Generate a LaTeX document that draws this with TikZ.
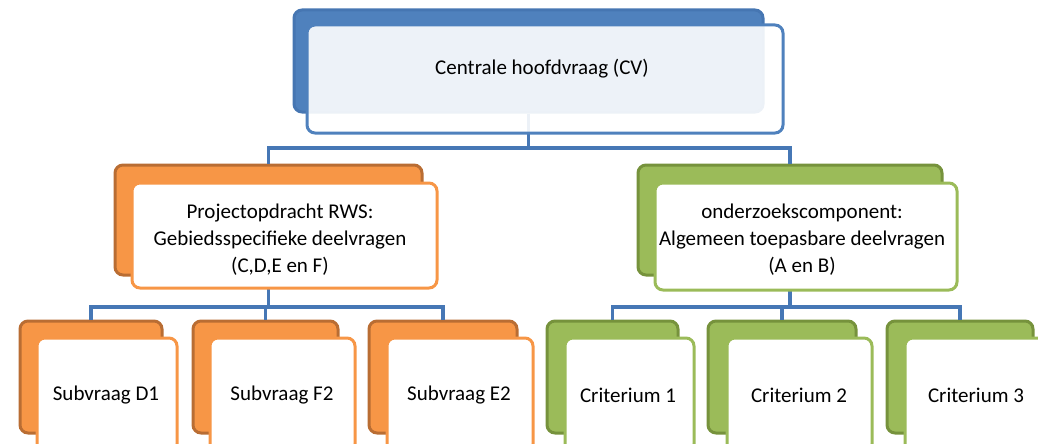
\documentclass[tikz,border=0pt]{standalone}
\usepackage{fontspec}
\setmainfont{Carlito}
\definecolor{bluefill}{HTML}{4F81BD}
\definecolor{blueedge}{HTML}{4676B2}
\definecolor{lineblue}{HTML}{4677B5}
\definecolor{orangefill}{HTML}{F79646}
\definecolor{orangeedge}{HTML}{B96D33}
\definecolor{greenfill}{HTML}{9BBB59}
\definecolor{greenedge}{HTML}{76923C}
\tikzset{
  box/.style={rectangle, rounded corners=8pt, inner sep=0pt, line width=3pt},
  backblue/.style={box, fill=bluefill, draw=blueedge},
  backorange/.style={box, fill=orangefill, draw=orangeedge},
  backgreen/.style={box, fill=greenfill, draw=greenedge},
  frontblue/.style={box, draw=bluefill, fill=white, fill opacity=0.9},
  frontorange/.style={box, draw=orangefill, fill=white},
  frontgreen/.style={box, draw=greenfill, fill=white},
  label/.style={inner sep=0pt, align=center, font=\fontsize{21}{27}\selectfont},
  link/.style={draw=lineblue, line width=3.5pt}
}
\begin{document}
\begin{tikzpicture}[x=1pt, y=-1pt]
\useasboundingbox (0,0) rectangle (1038,444);
\clip (0,0) rectangle (1038,444);

% bus levels of the tree
\coordinate (bus1) at (0,148);
\coordinate (bus2) at (0,307);

% back layers
\node[backblue, minimum width=469pt, minimum height=102pt] (cvback) at (528.5,61) {};
\node[backorange, minimum width=307pt, minimum height=110pt] (lback) at (268.5,220) {};
\node[backgreen, minimum width=304pt, minimum height=110pt] (rback) at (790,220) {};
\node[backorange, minimum width=142pt, minimum height=112pt] (d1back) at (91,377) {};
\node[backorange, minimum width=145pt, minimum height=112pt] (f2back) at (265.5,377) {};
\node[backorange, minimum width=148pt, minimum height=112pt] (e2back) at (443,377) {};
\node[backgreen, minimum width=131pt, minimum height=112pt] (c1back) at (612.5,377) {};
\node[backgreen, minimum width=148pt, minimum height=112pt] (c2back) at (782,377) {};
\node[backgreen, minimum width=146pt, minimum height=112pt] (c3back) at (960,377) {};

% connectors
\draw[link] (cvback.south) -- (cvback.south |- bus1);
\draw[link] (lback.north) -- (lback.north |- bus1) -- (rback.north |- bus1) -- (rback.north);
\draw[link] (lback.south) -- (lback.south |- bus2);
\draw[link] (d1back.north) -- (d1back.north |- bus2) -- (e2back.north |- bus2) -- (e2back.north);
\draw[link] (f2back.north) -- (f2back.north |- bus2);
\draw[link] (rback.south) -- (rback.south |- bus2);
\draw[link] (c1back.north) -- (c1back.north |- bus2) -- (c3back.north |- bus2) -- (c3back.north);
\draw[link] (c2back.north) -- (c2back.north |- bus2);

% front layers
\node[frontblue, minimum width=476pt, minimum height=108pt] (cvfront) at (545,79) {};
\node[frontorange, minimum width=305pt, minimum height=105pt] (lfront) at (284.5,235.5) {};
\node[frontgreen, minimum width=302pt, minimum height=107pt] (rfront) at (806,236.5) {};
\node[frontorange, minimum width=140pt, minimum height=114pt] (d1front) at (107,395) {};
\node[frontorange, minimum width=145pt, minimum height=114pt] (f2front) at (282.5,395) {};
\node[frontorange, minimum width=146pt, minimum height=114pt] (e2front) at (460,395) {};
\node[frontgreen, minimum width=129pt, minimum height=114pt] (c1front) at (629.5,395) {};
\node[frontgreen, minimum width=145pt, minimum height=114pt] (c2front) at (799.5,395) {};
\node[frontgreen, minimum width=145pt, minimum height=114pt] (c3front) at (977.5,395) {};

% texts
\node[label] (cvtext) at (542,69) {Centrale hoofdvraag (CV)};
\node[label] (ltext) at (280,240) {Projectopdracht RWS:\\Gebiedsspecifieke deelvragen\\(C,D,E en F)};
\node[label] (rtext) at (802,240) {onderzoekscomponent:\\Algemeen toepasbare deelvragen\\(A en B)};
\node[label] (d1text) at (106,395) {Subvraag D1};
\node[label] (f2text) at (282,395) {Subvraag F2};
\node[label] (e2text) at (459,395) {Subvraag E2};
\node[label] (c1text) at (628,395) {Criterium 1};
\node[label] (c2text) at (799,395) {Criterium 2};
\node[label] (c3text) at (976,395) {Criterium 3};
\end{tikzpicture}
\end{document}
